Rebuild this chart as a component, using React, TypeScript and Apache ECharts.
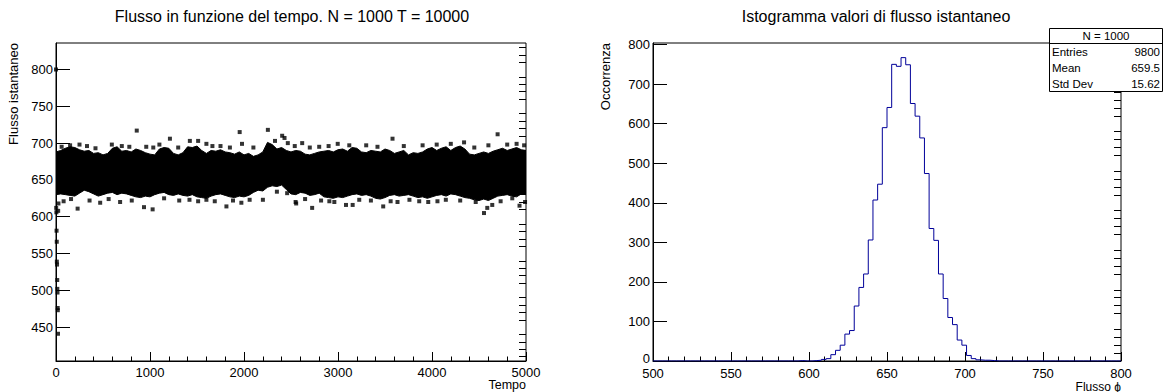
import React, { useEffect, useRef } from "react";
import * as echarts from "echarts";

const FONT = '"Liberation Sans", Arial, Helvetica, sans-serif';

// ---- Texts ----
const LEFT_TITLE = "Flusso in funzione del tempo. N = 1000 T = 10000";
const RIGHT_TITLE = "Istogramma valori di flusso istantaneo";
const LEFT_X_TITLE = "Tempo";
const LEFT_Y_TITLE = "Flusso istantaneo";
const RIGHT_X_TITLE = "Flusso \u03d5";
const RIGHT_Y_TITLE = "Occorrenza";
const STATS_HEADER = "N = 1000";
const STATS_LABELS = ["Entries", "Mean", "Std Dev"];
const STATS_VALUES = ["9800", "659.5", "15.62"];

// ---- Left panel: axis ticks ----
const LEFT_X_RANGE = [0, 5000];
const LEFT_Y_RANGE = [404, 836];
const LEFT_Y_LABELS = [450, 500, 550, 600, 650, 700, 750, 800];

// ---- Left panel: dense band envelope (sampled every BAND_STEP time units) ----
const BAND_STEP = 50;
const BAND_UPPER = [
  688, 690, 693, 695, 694, 691, 689, 690, 686, 687, 684, 686, 693, 695, 689, 690, 688, 692, 690, 687,
  685, 684, 692, 694, 693, 686, 684, 687, 695, 694, 696, 690, 686, 690, 689, 691, 688, 687, 685, 688,
  684, 686, 682, 684, 688, 701, 698, 692, 694, 690, 688, 690, 689, 685, 684, 686, 688, 689, 690, 688,
  691, 692, 689, 694, 693, 688, 687, 690, 689, 688, 692, 690, 686, 688, 690, 684, 687, 686, 688, 692,
  694, 690, 693, 695, 690, 694, 696, 692, 685, 684, 686, 688, 686, 689, 691, 693, 690, 692, 694, 691,
  690,
];
const BAND_LOWER = [
  630, 631, 630, 629, 628, 632, 636, 634, 631, 628, 630, 632, 633, 630, 632, 631, 629, 627, 626, 628,
  627, 630, 632, 633, 630, 629, 631, 629, 628, 630, 627, 626, 625, 628, 630, 631, 629, 627, 626, 628,
  627, 629, 633, 636, 635, 640, 642, 641, 643, 637, 631, 630, 633, 632, 629, 630, 632, 627, 626, 625,
  627, 626, 628, 630, 631, 629, 630, 628, 625, 624, 626, 629, 630, 628, 629, 630, 628, 626, 627, 625,
  627, 629, 630, 628, 631, 630, 628, 626, 625, 623, 622, 624, 622, 625, 628, 629, 630, 628, 627, 631,
  630,
];

// ---- Left panel: isolated points [tempo, flusso] ----
const TRANSIENT_POINTS = [
  [0, 800], [2, 612], [4, 606], [6, 581], [8, 566], [9, 539], [11, 535], [13, 514],
  [14, 502], [16, 497], [18, 476], [19, 473], [21, 441], [23, 608], [26, 618],
];
const UPPER_OUTLIERS = [
  [60, 695], [150, 697], [250, 698], [330, 696], [420, 693], [594, 698], [700, 696], [780, 695],
  [859, 717], [960, 695], [1035, 694], [1100, 698], [1212, 706], [1300, 694], [1424, 703],
  [1512, 703], [1600, 699], [1664, 696], [1750, 696], [1850, 694], [1954, 715], [1979, 699],
  [2100, 694], [2254, 718], [2330, 703], [2406, 710], [2431, 707], [2466, 700], [2540, 696],
  [2619, 700], [2700, 694], [2800, 695], [2900, 696], [2997, 699], [3120, 697], [3300, 697],
  [3420, 695], [3580, 706], [3700, 696], [3900, 697], [4050, 698], [4200, 699], [4341, 701],
  [4450, 694], [4600, 697], [4698, 712], [4800, 698], [4900, 699], [4980, 697],
];
const LOWER_OUTLIERS = [
  [81, 621], [160, 624], [230, 611], [357, 622], [470, 619], [560, 624], [682, 620], [806, 622],
  [936, 613], [1028, 610], [1150, 625], [1311, 622], [1420, 623], [1512, 621], [1600, 623],
  [1689, 621], [1813, 614], [1883, 622], [1972, 619], [2060, 623], [2201, 623], [2350, 634],
  [2459, 632], [2549, 620], [2555, 618], [2650, 624], [2725, 612], [2820, 622], [2908, 621],
  [2961, 620], [3085, 616], [3156, 616], [3226, 623], [3350, 622], [3481, 614], [3560, 621],
  [3633, 620], [3760, 623], [3864, 621], [3960, 620], [4058, 621], [4147, 623], [4300, 622],
  [4465, 620], [4553, 605], [4588, 612], [4641, 616], [4730, 621], [4854, 625], [4931, 615],
  [4990, 620],
];

// ---- Right panel: histogram ----
const HIST_RANGE = [500, 800];
const HIST_BIN_WIDTH = 3;
const HIST_Y_RANGE = [0, 804];
const HIST_Y_LABELS = [100, 200, 300, 400, 500, 600, 700, 800];
const HIST_Y_ZERO_LABEL = "0";
const HIST_Y_TICKS = [0, 100, 200, 300, 400, 500, 600, 700, 800];
const HIST_LOW_EDGES = [
  593, 602, 605, 608, 611, 614, 617, 620, 623, 626, 629, 632, 635, 638, 641, 644, 647, 650, 653,
  656, 659, 662, 665, 668, 671, 674, 677, 680, 683, 686, 689, 692, 695, 698, 701, 704, 707, 710,
  713, 716,
];
const HIST_COUNTS = [
  1, 1, 2, 4, 6, 16, 27, 40, 68, 77, 139, 186, 220, 306, 407, 447, 590, 641, 750,
  745, 767, 749, 651, 619, 564, 474, 335, 305, 220, 158, 110, 92, 53, 40, 14, 6, 3, 2,
  2, 1,
];

function minorTicks(lo: number, hi: number, step: number, major: number) {
  const out: number[] = [];
  const start = Math.ceil(lo / step) * step;
  for (let v = start; v <= hi + 1e-9; v += step) {
    if (Math.abs(v % major) > 1e-9) out.push(v);
  }
  return out;
}

export default function App() {
  const ref = useRef<HTMLDivElement>(null);

  useEffect(() => {
    if (!ref.current) return;
    const chart = echarts.init(ref.current, undefined, { renderer: "svg" });

    const scatterData = [...TRANSIENT_POINTS, ...UPPER_OUTLIERS, ...LOWER_OUTLIERS];

    const countByEdge = new Map<number, number>();
    HIST_LOW_EDGES.forEach((e, i) => countByEdge.set(e, HIST_COUNTS[i]));
    const nBins = Math.round((HIST_RANGE[1] - HIST_RANGE[0]) / HIST_BIN_WIDTH);
    const histData: number[][] = [];
    for (let k = 0; k < nBins; k++) {
      const edge = HIST_RANGE[0] + k * HIST_BIN_WIDTH;
      histData.push([edge, countByEdge.get(edge) ?? 0]);
    }
    histData.push([HIST_RANGE[1], 0]);

    const axisLine = { show: true, lineStyle: { color: "#000", width: 1 } };
    const plain = (v: number) => String(v);
    const labelStyle = { color: "#000", fontFamily: FONT, fontSize: 13, formatter: plain };

    const option: any = {
      animation: false,
      backgroundColor: "#fff",
      grid: [
        {
          left: 56, top: 43, width: 470, height: 318,
          show: true, borderColor: "#000", borderWidth: 1, backgroundColor: "transparent",
          containLabel: false, outerBoundsMode: "none",
        },
        {
          left: 653, top: 43, width: 468, height: 318,
          show: true, borderColor: "#000", borderWidth: 1, backgroundColor: "transparent",
          containLabel: false, outerBoundsMode: "none",
        },
      ],
      xAxis: [
        {
          gridIndex: 0, type: "value", min: LEFT_X_RANGE[0], max: LEFT_X_RANGE[1], interval: 1000,
          axisLine, axisTick: { show: true, inside: true, length: 9, lineStyle: { color: "#000" } },
          minorTick: { show: true, splitNumber: 5, length: 4.5, lineStyle: { color: "#000" } },
          axisLabel: { ...labelStyle, margin: 5, lineHeight: 13 },
          splitLine: { show: false }, minorSplitLine: { show: false },
        },
        {
          gridIndex: 1, type: "value", min: HIST_RANGE[0], max: HIST_RANGE[1], interval: 50,
          axisLine, axisTick: { show: true, inside: true, length: 9, lineStyle: { color: "#000" } },
          minorTick: { show: true, splitNumber: 5, length: 4.5, lineStyle: { color: "#000" } },
          axisLabel: { ...labelStyle, margin: 6, lineHeight: 13 },
          splitLine: { show: false }, minorSplitLine: { show: false },
        },
      ],
      yAxis: [
        {
          gridIndex: 0, type: "value", min: LEFT_Y_RANGE[0], max: LEFT_Y_RANGE[1],
          axisLine,
          axisTick: { show: true, inside: true, length: 14, customValues: LEFT_Y_LABELS, lineStyle: { color: "#000" } },
          axisLabel: { ...labelStyle, margin: 3, lineHeight: 12, customValues: LEFT_Y_LABELS },
          splitLine: { show: false },
        },
        {
          gridIndex: 0, type: "value", min: LEFT_Y_RANGE[0], max: LEFT_Y_RANGE[1],
          axisLine: { show: false },
          axisTick: {
            show: true, inside: true, length: 7,
            customValues: minorTicks(LEFT_Y_RANGE[0], LEFT_Y_RANGE[1], 10, 50),
            lineStyle: { color: "#000" },
          },
          axisLabel: { show: false },
          splitLine: { show: false },
        },
        {
          gridIndex: 1, type: "value", min: HIST_Y_RANGE[0], max: HIST_Y_RANGE[1],
          axisLine,
          axisTick: { show: true, inside: true, length: 14, customValues: HIST_Y_TICKS, lineStyle: { color: "#000" } },
          axisLabel: { ...labelStyle, margin: 3, lineHeight: 12, customValues: HIST_Y_LABELS },
          splitLine: { show: false },
        },
        {
          gridIndex: 1, type: "value", min: HIST_Y_RANGE[0], max: HIST_Y_RANGE[1],
          axisLine: { show: false },
          axisTick: {
            show: true, inside: true, length: 7,
            customValues: minorTicks(HIST_Y_RANGE[0], 800, 20, 100),
            lineStyle: { color: "#000" },
          },
          axisLabel: { show: false },
          splitLine: { show: false },
        },
      ],
      series: [
        {
          type: "custom",
          xAxisIndex: 0,
          yAxisIndex: 0,
          silent: true,
          clip: true,
          data: [[2500, 660]],
          renderItem: (_params: any, api: any) => {
            const pts: number[][] = [];
            for (let i = 0; i < BAND_UPPER.length; i++) {
              pts.push(api.coord([i * BAND_STEP, BAND_UPPER[i]]));
            }
            for (let i = BAND_LOWER.length - 1; i >= 0; i--) {
              pts.push(api.coord([i * BAND_STEP, BAND_LOWER[i]]));
            }
            return {
              type: "polygon",
              shape: { points: pts },
              style: { fill: "#000", stroke: "#000", lineWidth: 1 },
            };
          },
          z: 2,
        },
        {
          type: "scatter",
          xAxisIndex: 0,
          yAxisIndex: 0,
          symbol: "rect",
          symbolSize: 4,
          itemStyle: { color: "#000" },
          data: scatterData,
          silent: true,
          z: 3,
        },
        {
          type: "line",
          xAxisIndex: 1,
          yAxisIndex: 2,
          step: "end",
          symbol: "none",
          data: histData,
          lineStyle: { color: "#000099", width: 1 },
          silent: true,
          z: 3,
        },
      ],
      graphic: [
        {
          type: "text", x: 292, y: 16, z: 100,
          style: { text: LEFT_TITLE, font: `16px ${FONT}`, fill: "#000", align: "center", verticalAlign: "middle" },
        },
        {
          type: "text", x: 876, y: 16, z: 100,
          style: { text: RIGHT_TITLE, font: `16px ${FONT}`, fill: "#000", align: "center", verticalAlign: "middle" },
        },
        {
          type: "text", x: 650, y: 358, z: 100,
          style: { text: HIST_Y_ZERO_LABEL, font: `13px ${FONT}`, fill: "#000", align: "right", verticalAlign: "middle" },
        },
        {
          type: "text", x: 526, y: 385, z: 100,
          style: { text: LEFT_X_TITLE, font: `12.5px ${FONT}`, fill: "#000", align: "right", verticalAlign: "middle" },
        },
        {
          type: "text", x: 1121, y: 386.5, z: 100,
          style: { text: RIGHT_X_TITLE, font: `12px ${FONT}`, fill: "#000", align: "right", verticalAlign: "middle" },
        },
        {
          type: "text", x: 13.5, y: 43, rotation: Math.PI / 2, z: 100,
          style: { text: LEFT_Y_TITLE, font: `13px ${FONT}`, fill: "#000", align: "right", verticalAlign: "middle" },
        },
        {
          type: "text", x: 605, y: 43, rotation: Math.PI / 2, z: 100,
          style: { text: RIGHT_Y_TITLE, font: `13px ${FONT}`, fill: "#000", align: "right", verticalAlign: "middle" },
        },
        {
          type: "group", z: 100,
          children: [
            {
              type: "rect", z: 100,
              shape: { x: 1049.5, y: 28.5, width: 113, height: 63 },
              style: { fill: "#fff", stroke: "#000", lineWidth: 1 },
            },
            {
              type: "line", z: 101,
              shape: { x1: 1049.5, y1: 43.5, x2: 1162.5, y2: 43.5 },
              style: { stroke: "#000", lineWidth: 1 },
            },
            {
              type: "text", x: 1106, y: 36, z: 101,
              style: { text: STATS_HEADER, font: `11.5px ${FONT}`, fill: "#000", align: "center", verticalAlign: "middle" },
            },
            ...STATS_LABELS.map((t, i) => ({
              type: "text", x: 1052, y: 52 + i * 16, z: 101,
              style: { text: t, font: `11.5px ${FONT}`, fill: "#000", align: "left", verticalAlign: "middle" },
            })),
            ...STATS_VALUES.map((t, i) => ({
              type: "text", x: 1160, y: 52 + i * 16, z: 101,
              style: { text: t, font: `11.5px ${FONT}`, fill: "#000", align: "right", verticalAlign: "middle" },
            })),
          ],
        },
      ],
    };

    chart.setOption(option);
    return () => chart.dispose();
  }, []);

  return (
    <div
      ref={ref}
      style={{ position: "fixed", left: 0, top: 0, width: 1168, height: 392, background: "#fff" }}
    />
  );
}
